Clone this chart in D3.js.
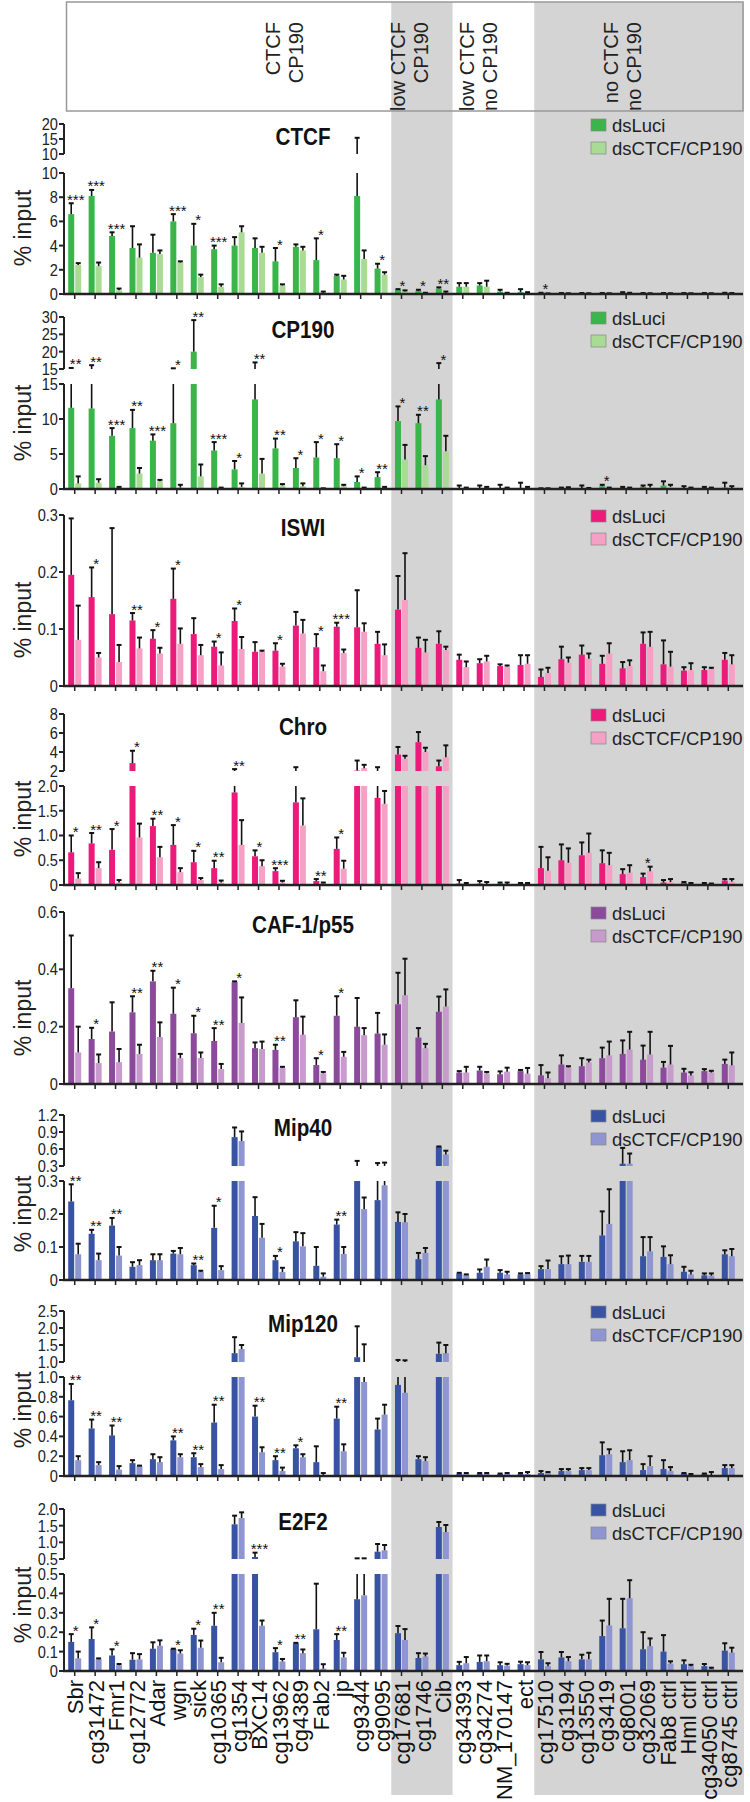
<!DOCTYPE html>
<html>
<head>
<meta charset="utf-8">
<script src="https://cdn.jsdelivr.net/npm/d3@7"></script>
<style>
  body { margin: 0; background: #fff; }
  text { font-family: "Liberation Sans", Arial, sans-serif; }
</style>
</head>
<body>
<script>
const genes = ['Sbr', 'cg31472', 'Fmr1', 'cg12772', 'Adar', 'wgn', 'sick', 'cg10365', 'cg1354', 'BXC14',
    'cg13962', 'cg4389', 'Fab2', 'jp', 'cg9344', 'cg9095', 'cg17681', 'cg1746', 'Cib', 'cg34393',
    'cg34274', 'NM_170147', 'ect', 'cg17510', 'cg3194', 'cg13550', 'cg3419', 'cg8001', 'cg32069',
    'Fab8 ctrl', 'Hml ctrl', 'cg34050 ctrl', 'cg8745 ctrl'];

const groupNames = [['CTCF', 'CP190'], ['low CTCF', 'CP190'], ['low CTCF', 'no CP190'], ['no CTCF', 'no CP190']];
const groupSizes = [16, 3, 4, 10];
const groupShaded = [false, true, false, true];

const seriesNames = ['dsLuci', 'dsCTCF/CP190'];

// CTCF
const ctcfLuci = [6.6, 8.1, 4.8, 3.8, 3.4, 6.0, 4.0, 3.7, 4.0, 3.8, 2.7, 3.9, 2.8, 1.5, 8.1, 2.1, 0.35, 0.25, 0.45, 0.6, 0.7, 0.2, 0.15, 0.05, 0.04, 0.05, 0.04, 0.1, 0.05, 0.04, 0.04, 0.04, 0.05];
const ctcfLuciSem = [0.9, 0.5, 0.3, 1.8, 1.5, 0.6, 1.8, 0.3, 0.7, 0.8, 1.1, 0.2, 1.8, 0.1, 7.3, 0.4, 0.05, 0.1, 0.1, 0.3, 0.2, 0.15, 0.25, 0.05, 0.04, 0.03, 0.04, 0.05, 0.03, 0.04, 0.04, 0.04, 0.05];
const ctcfKd = [2.4, 2.3, 0.3, 3.0, 3.3, 2.6, 1.4, 0.6, 5.1, 3.4, 0.7, 3.6, 0.1, 1.2, 2.9, 1.6, 0.2, 0.05, 0.1, 0.6, 0.6, 0.05, 0.05, 0.02, 0.03, 0.03, 0.03, 0.05, 0.03, 0.03, 0.03, 0.03, 0.04];
const ctcfKdSem = [0.15, 0.3, 0.15, 1.1, 0.3, 0.1, 0.2, 0.2, 0.5, 0.5, 0.1, 0.3, 0.1, 0.3, 0.7, 0.2, 0.1, 0.05, 0.1, 0.3, 0.5, 0.05, 0.1, 0.03, 0.03, 0.03, 0.03, 0.05, 0.03, 0.03, 0.03, 0.03, 0.04];
const ctcfStars = [['Sbr', '***'], ['cg31472', '***'], ['Fmr1', '***'], ['wgn', '***'], ['sick', '*'], ['cg10365', '***'], ['cg13962', '*'], ['Fab2', '*'], ['cg9095', '*'], ['cg17681', '*'], ['cg1746', '*'], ['Cib', '**'], ['cg17510', '*']];

// CP190
const cp190Luci = [11.6, 11.5, 7.6, 8.7, 6.9, 9.4, 20.0, 5.5, 2.8, 12.8, 5.8, 3.0, 4.5, 4.4, 1.0, 1.7, 9.7, 9.4, 12.8, 0.1, 0.1, 0.1, 0.1, 0.05, 0.05, 0.1, 0.4, 0.1, 0.3, 0.5, 0.1, 0.05, 0.2];
const cp190LuciSem = [3.7, 4.6, 1.1, 2.6, 0.9, 5.8, 9.1, 1.2, 1.2, 4.1, 1.4, 1.4, 2.2, 2.0, 0.8, 0.7, 2.1, 1.2, 3.9, 0.4, 0.4, 0.5, 0.8, 0.05, 0.15, 0.4, 0.2, 0.2, 0.2, 0.6, 0.3, 0.25, 0.7];
const cp190Kd = [0.8, 0.9, 0.2, 2.2, 1.1, 0.2, 1.8, 0.15, 0.3, 2.2, 0.5, 0.4, 0.05, 0.4, 0.15, 0.2, 4.2, 3.4, 5.4, 0.05, 0.1, 0.05, 0.05, 0.03, 0.1, 0.05, 0.1, 0.1, 0.2, 0.3, 0.05, 0.05, 0.1];
const cp190KdSem = [1.0, 0.5, 0.1, 0.8, 0.2, 0.4, 1.7, 0.05, 0.5, 2.1, 0.2, 0.4, 0.05, 0.2, 0.05, 0.1, 2.1, 1.3, 2.2, 0.15, 0.2, 0.15, 0.25, 0.07, 0.15, 0.1, 0.1, 0.1, 0.4, 0.3, 0.15, 0.15, 0.3];
const cp190Stars = [['Sbr', '**'], ['cg31472', '**'], ['Fmr1', '***'], ['cg12772', '**'], ['Adar', '***'], ['wgn', '*'], ['sick', '**'], ['cg10365', '***'], ['cg1354', '*'], ['BXC14', '**'], ['cg13962', '**'], ['cg4389', '*'], ['Fab2', '*'], ['jp', '*'], ['cg9344', '*'], ['cg9095', '**'], ['cg17681', '*'], ['cg1746', '**'], ['Cib', '*'], ['cg3419', '*']];

// ISWI
const iswiLuci = [0.195, 0.156, 0.126, 0.115, 0.083, 0.153, 0.091, 0.069, 0.114, 0.06, 0.062, 0.106, 0.068, 0.104, 0.103, 0.074, 0.134, 0.067, 0.074, 0.046, 0.04, 0.035, 0.037, 0.016, 0.047, 0.055, 0.039, 0.031, 0.074, 0.038, 0.027, 0.028, 0.046];
const iswiLuciSem = [0.099, 0.052, 0.151, 0.013, 0.015, 0.053, 0.028, 0.009, 0.022, 0.017, 0.013, 0.024, 0.023, 0.007, 0.065, 0.021, 0.059, 0.018, 0.022, 0.009, 0.007, 0.003, 0.017, 0.013, 0.022, 0.016, 0.014, 0.011, 0.02, 0.042, 0.006, 0.005, 0.012];
const iswiKd = [0.081, 0.05, 0.042, 0.066, 0.057, 0.074, 0.054, 0.036, 0.065, 0.06, 0.034, 0.092, 0.026, 0.058, 0.095, 0.054, 0.151, 0.059, 0.063, 0.033, 0.043, 0.034, 0.039, 0.023, 0.041, 0.048, 0.057, 0.035, 0.069, 0.034, 0.028, 0.03, 0.038];
const iswiKdSem = [0.06, 0.008, 0.03, 0.019, 0.01, 0.027, 0.018, 0.023, 0.021, 0.002, 0.005, 0.024, 0.01, 0.006, 0.015, 0.019, 0.082, 0.022, 0.006, 0.01, 0.01, 0.002, 0.015, 0.009, 0.009, 0.009, 0.018, 0.01, 0.026, 0.026, 0.012, 0.002, 0.016];
const iswiStars = [['cg31472', '*'], ['cg12772', '**'], ['Adar', '*'], ['wgn', '*'], ['cg10365', '*'], ['cg1354', '*'], ['cg13962', '*'], ['Fab2', '*'], ['jp', '***']];

// Chro
const chroLuci = [0.66, 0.84, 0.71, 2.83, 1.19, 0.81, 0.46, 0.34, 1.87, 0.58, 0.28, 1.67, 0.08, 0.73, 2.05, 1.76, 3.73, 5.03, 2.5, 0.03, 0.03, 0.03, 0.03, 0.34, 0.5, 0.6, 0.44, 0.22, 0.16, 0.05, 0.04, 0.02, 0.09];
const chroLuciSem = [0.34, 0.21, 0.42, 1.3, 0.15, 0.4, 0.23, 0.15, 0.33, 0.12, 0.06, 0.73, 0.04, 0.23, 1.05, 0.64, 0.8, 1.07, 0.6, 0.07, 0.05, 0.02, 0.01, 0.43, 0.32, 0.26, 0.26, 0.1, 0.07, 0.05, 0.02, 0.02, 0.03];
const chroKd = [0.13, 0.34, 0.05, 0.96, 0.56, 0.26, 0.1, 0.05, 0.81, 0.38, 0.05, 1.2, 0.03, 0.33, 2.3, 1.64, 3.3, 4.0, 3.45, 0.01, 0.02, 0.02, 0.03, 0.29, 0.45, 0.65, 0.4, 0.25, 0.28, 0.06, 0.03, 0.02, 0.07];
const chroKdSem = [0.11, 0.12, 0.05, 0.28, 0.21, 0.08, 0.04, 0.04, 0.5, 0.12, 0.035, 0.55, 0.02, 0.16, 0.35, 0.26, 0.3, 0.45, 1.25, 0.03, 0.04, 0.03, 0.01, 0.27, 0.29, 0.39, 0.25, 0.15, 0.09, 0.06, 0.01, 0.01, 0.05];
const chroStars = [['Sbr', '*'], ['cg31472', '**'], ['Fmr1', '*'], ['cg12772', '*'], ['Adar', '**'], ['wgn', '*'], ['sick', '*'], ['cg10365', '**'], ['cg1354', '**'], ['BXC14', '*'], ['cg13962', '***'], ['Fab2', '**'], ['jp', '*'], ['cg32069', '*']];

// CAF-1/p55
const cafLuci = [0.334, 0.157, 0.183, 0.25, 0.358, 0.245, 0.177, 0.15, 0.355, 0.125, 0.119, 0.233, 0.066, 0.238, 0.2, 0.176, 0.278, 0.162, 0.252, 0.04, 0.047, 0.034, 0.045, 0.03, 0.068, 0.062, 0.09, 0.105, 0.085, 0.057, 0.04, 0.045, 0.07];
const cafLuciSem = [0.184, 0.039, 0.102, 0.056, 0.037, 0.091, 0.061, 0.045, 0.003, 0.02, 0.018, 0.059, 0.024, 0.068, 0.1, 0.072, 0.11, 0.033, 0.053, 0.005, 0.013, 0.01, 0.004, 0.036, 0.032, 0.028, 0.037, 0.047, 0.049, 0.02, 0.013, 0.007, 0.015];
const cafKd = [0.11, 0.073, 0.076, 0.105, 0.164, 0.09, 0.091, 0.052, 0.213, 0.122, 0.056, 0.172, 0.037, 0.095, 0.17, 0.137, 0.31, 0.125, 0.27, 0.04, 0.037, 0.043, 0.036, 0.02, 0.058, 0.075, 0.1, 0.12, 0.103, 0.068, 0.03, 0.04, 0.065];
const cafKdSem = [0.09, 0.03, 0.046, 0.032, 0.051, 0.015, 0.019, 0.018, 0.089, 0.026, 0.004, 0.063, 0.005, 0.017, 0.025, 0.036, 0.127, 0.015, 0.06, 0.02, 0.005, 0.014, 0.02, 0.02, 0.004, 0.01, 0.048, 0.062, 0.079, 0.065, 0.011, 0.006, 0.045];
const cafStars = [['cg31472', '*'], ['cg12772', '**'], ['Adar', '**'], ['wgn', '*'], ['sick', '*'], ['cg10365', '**'], ['cg1354', '*'], ['cg13962', '**'], ['Fab2', '*'], ['jp', '*']];

// Mip40
const mip40Luci = [0.238, 0.14, 0.165, 0.04, 0.06, 0.08, 0.045, 0.158, 0.81, 0.194, 0.06, 0.117, 0.043, 0.168, 0.3, 0.242, 0.176, 0.063, 0.64, 0.02, 0.022, 0.022, 0.017, 0.033, 0.048, 0.055, 0.135, 0.34, 0.072, 0.07, 0.025, 0.014, 0.078];
const mip40LuciSem = [0.052, 0.012, 0.023, 0.014, 0.018, 0.008, 0.005, 0.067, 0.17, 0.057, 0.013, 0.028, 0.057, 0.015, 0.09, 0.11, 0.029, 0.019, 0.005, 0.002, 0.01, 0.008, 0.003, 0.009, 0.024, 0.018, 0.073, 0.28, 0.058, 0.032, 0.015, 0.006, 0.012];
const mip40Kd = [0.078, 0.06, 0.074, 0.045, 0.06, 0.078, 0.025, 0.03, 0.74, 0.128, 0.024, 0.102, 0.01, 0.079, 0.215, 0.287, 0.175, 0.082, 0.505, 0.015, 0.04, 0.017, 0.019, 0.033, 0.048, 0.055, 0.17, 0.34, 0.087, 0.048, 0.017, 0.013, 0.072];
const mip40KdSem = [0.032, 0.02, 0.026, 0.015, 0.018, 0.019, 0.003, 0.012, 0.17, 0.042, 0.013, 0.04, 0.01, 0.021, 0.035, 0.073, 0.025, 0.015, 0.065, 0.002, 0.022, 0.008, 0.002, 0.026, 0.026, 0.018, 0.105, 0.18, 0.043, 0.027, 0.011, 0.007, 0.022];
const mip40Stars = [['Sbr', '**'], ['cg31472', '**'], ['Fmr1', '**'], ['sick', '**'], ['cg10365', '*'], ['cg13962', '*'], ['jp', '**']];

// Mip120
const mip120Luci = [0.765, 0.48, 0.41, 0.13, 0.17, 0.36, 0.19, 0.54, 1.26, 0.6, 0.16, 0.28, 0.14, 0.58, 1.14, 0.47, 0.92, 0.17, 1.24, 0.02, 0.02, 0.02, 0.02, 0.03, 0.05, 0.06, 0.21, 0.14, 0.06, 0.07, 0.025, 0.02, 0.08];
const mip120LuciSem = [0.165, 0.09, 0.1, 0.03, 0.05, 0.04, 0.04, 0.18, 0.47, 0.11, 0.04, 0.03, 0.16, 0.12, 0.91, 0.11, 0.14, 0.03, 0.33, 0.01, 0.01, 0.005, 0.01, 0.02, 0.02, 0.02, 0.13, 0.11, 0.06, 0.09, 0.005, 0.005, 0.03];
const mip120Kd = [0.16, 0.11, 0.065, 0.1, 0.14, 0.19, 0.09, 0.07, 1.38, 0.24, 0.05, 0.19, 0.01, 0.25, 0.95, 0.62, 0.84, 0.15, 1.26, 0.02, 0.02, 0.02, 0.02, 0.03, 0.05, 0.06, 0.22, 0.16, 0.1, 0.05, 0.01, 0.01, 0.08];
const mip120KdSem = [0.04, 0.03, 0.035, 0.005, 0.05, 0.03, 0.03, 0.04, 0.12, 0.05, 0.035, 0.03, 0.02, 0.07, 0.57, 0.1, 0.21, 0.04, 0.24, 0.01, 0.01, 0.01, 0.02, 0.01, 0.02, 0.02, 0.05, 0.1, 0.1, 0.04, 0.01, 0.03, 0.03];
const mip120Stars = [['Sbr', '**'], ['cg31472', '**'], ['Fmr1', '**'], ['wgn', '**'], ['sick', '**'], ['cg10365', '**'], ['BXC14', '**'], ['cg13962', '**'], ['cg4389', '*'], ['jp', '**']];

// E2F2
const e2f2Luci = [0.15, 0.165, 0.08, 0.058, 0.115, 0.113, 0.186, 0.233, 1.54, 0.56, 0.097, 0.142, 0.215, 0.16, 0.37, 0.72, 0.195, 0.067, 1.46, 0.03, 0.047, 0.03, 0.035, 0.06, 0.07, 0.06, 0.18, 0.22, 0.112, 0.1, 0.035, 0.025, 0.105];
const e2f2LuciSem = [0.04, 0.06, 0.032, 0.034, 0.033, 0.002, 0.032, 0.067, 0.26, 0.13, 0.021, 0.003, 0.235, 0.03, 0.15, 0.23, 0.037, 0.025, 0.15, 0.017, 0.033, 0.015, 0.013, 0.038, 0.028, 0.024, 0.08, 0.152, 0.088, 0.085, 0.02, 0.011, 0.038];
const e2f2Kd = [0.065, 0.06, 0.03, 0.06, 0.13, 0.09, 0.12, 0.045, 1.73, 0.233, 0.049, 0.092, 0.012, 0.07, 0.39, 0.76, 0.16, 0.075, 1.31, 0.04, 0.05, 0.028, 0.03, 0.025, 0.05, 0.06, 0.235, 0.375, 0.128, 0.038, 0.025, 0.012, 0.095];
const e2f2KdSem = [0.035, 0.005, 0.006, 0.027, 0.028, 0.017, 0.037, 0.023, 0.17, 0.027, 0.013, 0.019, 0.023, 0.024, 0.13, 0.16, 0.056, 0.015, 0.21, 0.032, 0.03, 0.009, 0.015, 0.015, 0.022, 0.034, 0.137, 0.093, 0.04, 0.012, 0.007, 0.005, 0.025];
const e2f2Stars = [['Sbr', '*'], ['cg31472', '*'], ['Fmr1', '*'], ['wgn', '*'], ['sick', '*'], ['cg10365', '**'], ['BXC14', '***'], ['cg13962', '*'], ['cg4389', '**'], ['jp', '**']];

const greens = ['#39b54a', '#a9db95'];
const pinks = ['#ec1a7b', '#f5a0c5'];
const purples = ['#8c4a9d', '#c89bcd'];
const blues = ['#3953a4', '#8e95d0'];

// panel layout: y0 = pixel of the x axis, segs = axis pieces from bottom to top
const panels = [
    { title: 'CTCF', luci: ctcfLuci, luciSem: ctcfLuciSem, kd: ctcfKd, kdSem: ctcfKdSem, stars: ctcfStars, colors: greens,
      y0: 294, gap: 19, segs: [{ dom: [0, 10], h: 121, ticks: [0, 2, 4, 6, 8, 10], fmt: 'd' }, { dom: [10, 20], h: 30, ticks: [10, 15, 20], fmt: 'd' }] },
    { title: 'CP190', luci: cp190Luci, luciSem: cp190LuciSem, kd: cp190Kd, kdSem: cp190KdSem, stars: cp190Stars, colors: greens,
      y0: 489, gap: 15, segs: [{ dom: [0, 15], h: 105, ticks: [0, 5, 10, 15], fmt: 'd' }, { dom: [15, 30], h: 52, ticks: [15, 20, 25, 30], fmt: 'd' }] },
    { title: 'ISWI', luci: iswiLuci, luciSem: iswiLuciSem, kd: iswiKd, kdSem: iswiKdSem, stars: iswiStars, colors: pinks,
      y0: 686, gap: 0, segs: [{ dom: [0, 0.3], h: 171, ticks: [0, 0.1, 0.2, 0.3], fmt: '.1f' }] },
    { title: 'Chro', luci: chroLuci, luciSem: chroLuciSem, kd: chroKd, kdSem: chroKdSem, stars: chroStars, colors: pinks,
      y0: 885, gap: 15, segs: [{ dom: [0, 2], h: 99, ticks: [0, 0.5, 1, 1.5, 2], fmt: '.1f' }, { dom: [2, 8], h: 57, ticks: [2, 4, 6, 8], fmt: 'd' }] },
    { title: 'CAF-1/p55', luci: cafLuci, luciSem: cafLuciSem, kd: cafKd, kdSem: cafKdSem, stars: cafStars, colors: purples,
      y0: 1084, gap: 0, segs: [{ dom: [0, 0.6], h: 172, ticks: [0, 0.2, 0.4, 0.6], fmt: '.1f' }] },
    { title: 'Mip40', luci: mip40Luci, luciSem: mip40LuciSem, kd: mip40Kd, kdSem: mip40KdSem, stars: mip40Stars, colors: blues,
      y0: 1280, gap: 15, segs: [{ dom: [0, 0.3], h: 99, ticks: [0, 0.1, 0.2, 0.3], fmt: '.1f' }, { dom: [0.3, 1.2], h: 51, ticks: [0.3, 0.6, 0.9, 1.2], fmt: '.1f' }] },
    { title: 'Mip120', luci: mip120Luci, luciSem: mip120LuciSem, kd: mip120Kd, kdSem: mip120KdSem, stars: mip120Stars, colors: blues,
      y0: 1476, gap: 15, segs: [{ dom: [0, 1], h: 99, ticks: [0, 0.2, 0.4, 0.6, 0.8, 1], fmt: '.1f' }, { dom: [1, 2.5], h: 51, ticks: [1, 1.5, 2, 2.5], fmt: '.1f' }] },
    { title: 'E2F2', luci: e2f2Luci, luciSem: e2f2LuciSem, kd: e2f2Kd, kdSem: e2f2KdSem, stars: e2f2Stars, colors: blues,
      y0: 1671, gap: 15, segs: [{ dom: [0, 0.5], h: 97, ticks: [0, 0.1, 0.2, 0.3, 0.4, 0.5], fmt: '.1f' }, { dom: [0.5, 2], h: 50, ticks: [0.5, 1, 1.5, 2], fmt: '.1f' }] }
];

const width = 750;
const height = 1802;
const axisX = 64;
const narrow = 0.86; // squeeze for the condensed tick/title lettering

const svg = d3.select('body')
    .append('svg')
    .attr('width', width)
    .attr('height', height);

const x = d3.scaleBand()
    .domain(genes)
    .range([64.5, 738.5]);
const cx = g => x(g) + x.bandwidth() / 2;

// grey bands behind everything
let start = 0;
const groups = groupSizes.map((n, i) => {
    const first = genes[start], last = genes[start + n - 1];
    start += n;
    const x0 = x(first);
    const x1 = i === groupSizes.length - 1 ? 744 : x(last) + x.bandwidth();
    return { names: groupNames[i], shaded: groupShaded[i], x0: x0, x1: x1 };
});

svg.selectAll('rect.band')
    .data(groups.filter(d => d.shaded))
    .enter()
    .append('rect')
    .attr('class', 'band')
    .attr('x', d => d.x0)
    .attr('width', d => d.x1 - d.x0)
    .attr('y', 2)
    .attr('height', 1793)
    .attr('fill', '#d4d4d4');

// header box with group names
svg.append('rect')
    .attr('x', 66.5)
    .attr('y', 2)
    .attr('width', 743 - 66.5)
    .attr('height', 109)
    .attr('fill', 'none')
    .attr('stroke', '#999')
    .attr('stroke-width', 1.5);

// text columns sit a little off the band centres, as in the figure
const headerShift = [57, -12, -15, -16];
groups.forEach((gr, i) => {
    const mid = (gr.x0 + Math.min(gr.x1, 743)) / 2 + headerShift[i];
    gr.names.forEach((name, j) => {
        svg.append('text')
            .attr('transform', 'translate(' + (mid + (j - 0.5) * 23) + ',22) rotate(-90)')
            .attr('dy', '0.35em')
            .attr('text-anchor', 'end')
            .attr('font-size', 20)
            .attr('fill', '#222')
            .text(name);
    });
});

panels.forEach(p => {
    const g = svg.append('g');

    // one linear scale per axis piece
    let base = p.y0;
    p.segs.forEach((s, i) => {
        if (i > 0) base -= p.gap;
        s.y = d3.scaleLinear().domain(s.dom).range([base, base - s.h]);
        base -= s.h;
    });
    const top = base;
    const last = p.segs[p.segs.length - 1];
    const yPix = v => {
        const s = p.segs.find(s => v <= s.dom[1]) || last;
        return s.y(Math.min(v, s.dom[1]));
    };

    const series = [
        { vals: p.luci, sem: p.luciSem, color: p.colors[0], dx: -6.5 },
        { vals: p.kd, sem: p.kdSem, color: p.colors[1], dx: 0.5 }
    ];
    const bw = 6;

    series.forEach(se => {
        const data = genes.map((gene, i) => ({ gene: gene, v: se.vals[i], e: se.sem[i] }));
        p.segs.forEach(s => {
            g.append('g')
                .selectAll('rect')
                .data(data.filter(d => d.v > s.dom[0]))
                .enter()
                .append('rect')
                .attr('x', d => cx(d.gene) + se.dx)
                .attr('width', bw)
                .attr('y', d => s.y(Math.min(d.v, s.dom[1])))
                .attr('height', d => s.y(s.dom[0]) - s.y(Math.min(d.v, s.dom[1])))
                .attr('fill', se.color);

            // error whiskers, split across the break
            g.append('g')
                .selectAll('line')
                .data(data.filter(d => Math.min(d.v + d.e, s.dom[1]) > Math.max(d.v, s.dom[0])))
                .enter()
                .append('line')
                .attr('x1', d => cx(d.gene) + se.dx + bw / 2)
                .attr('x2', d => cx(d.gene) + se.dx + bw / 2)
                .attr('y1', d => s.y(Math.max(d.v, s.dom[0])))
                .attr('y2', d => s.y(Math.min(d.v + d.e, s.dom[1])))
                .attr('stroke', '#111')
                .attr('stroke-width', 1.6);
        });
        g.append('g')
            .selectAll('line')
            .data(data)
            .enter()
            .append('line')
            .attr('x1', d => cx(d.gene) + se.dx + bw / 2 - 2.5)
            .attr('x2', d => cx(d.gene) + se.dx + bw / 2 + 2.5)
            .attr('y1', d => yPix(d.v + d.e))
            .attr('y2', d => yPix(d.v + d.e))
            .attr('stroke', '#111')
            .attr('stroke-width', 2);
    });

    // significance stars
    g.append('g')
        .selectAll('text')
        .data(p.stars)
        .enter()
        .append('text')
        .attr('x', d => cx(d[0]) + 1)
        .attr('y', d => {
            const i = genes.indexOf(d[0]);
            return yPix(Math.max(p.luci[i] + p.luciSem[i], p.kd[i] + p.kdSem[i])) + 1.5;
        })
        .attr('text-anchor', 'middle')
        .attr('font-size', 15)
        .attr('fill', '#111')
        .text(d => d[1]);

    // y axis pieces
    p.segs.forEach(s => {
        const r = s.y.range();
        g.append('line')
            .attr('x1', axisX).attr('x2', axisX)
            .attr('y1', r[0]).attr('y2', r[1])
            .attr('stroke', '#222')
            .attr('stroke-width', 2);
        const fmt = d3.format(s.fmt);
        const t = g.append('g')
            .selectAll('g')
            .data(s.ticks)
            .enter()
            .append('g')
            .attr('transform', d => 'translate(0,' + s.y(d) + ')');
        t.append('line')
            .attr('x1', axisX - 5).attr('x2', axisX)
            .attr('stroke', '#222')
            .attr('stroke-width', 2);
        t.append('text')
            .attr('transform', 'translate(' + (axisX - 6) + ',0) scale(' + narrow + ',1)')
            .attr('dy', '0.35em')
            .attr('text-anchor', 'end')
            .attr('font-size', 17)
            .attr('fill', '#222')
            .text(d => d === 0 ? '0' : fmt(d));
    });

    // x axis
    g.append('line')
        .attr('x1', axisX - 1).attr('x2', 743)
        .attr('y1', p.y0).attr('y2', p.y0)
        .attr('stroke', '#222')
        .attr('stroke-width', 2.5);
    g.append('g')
        .selectAll('line')
        .data(genes)
        .enter()
        .append('line')
        .attr('x1', d => cx(d)).attr('x2', d => cx(d))
        .attr('y1', p.y0).attr('y2', p.y0 + 5)
        .attr('stroke', '#222')
        .attr('stroke-width', 1.5);

    // labels
    g.append('text')
        .attr('transform', 'translate(23,' + (p.y0 - 66) + ') rotate(-90)')
        .attr('dy', '0.35em')
        .attr('text-anchor', 'middle')
        .attr('font-size', 23)
        .attr('fill', '#222')
        .text('% input');

    g.append('text')
        .attr('transform', 'translate(303,' + (top + 21) + ') scale(' + narrow + ',1)')
        .attr('text-anchor', 'middle')
        .attr('font-size', 24)
        .attr('font-weight', 'bold')
        .attr('fill', '#111')
        .text(p.title);

    // legend
    const lg = g.append('g')
        .selectAll('g')
        .data(seriesNames)
        .enter()
        .append('g')
        .attr('transform', (d, i) => 'translate(591,' + (top + 8 + i * 23) + ')');
    lg.append('rect')
        .attr('y', -13)
        .attr('width', 15)
        .attr('height', 12)
        .attr('fill', (d, i) => p.colors[i])
        .attr('stroke', '#888')
        .attr('stroke-width', 0.7);
    lg.append('text')
        .attr('x', 21)
        .attr('font-size', 18.5)
        .attr('fill', '#222')
        .text(d => d);
});

// gene names under the last panel
const bottom = panels[panels.length - 1].y0;
svg.append('g')
    .selectAll('text')
    .data(genes)
    .enter()
    .append('text')
    .attr('transform', d => 'translate(' + (cx(d) + 1) + ',' + (bottom + 9) + ') rotate(-90)')
    .attr('dy', '0.35em')
    .attr('text-anchor', 'end')
    .attr('font-size', 22)
    .attr('fill', '#111')
    .text(d => d);
</script>
</body>
</html>
